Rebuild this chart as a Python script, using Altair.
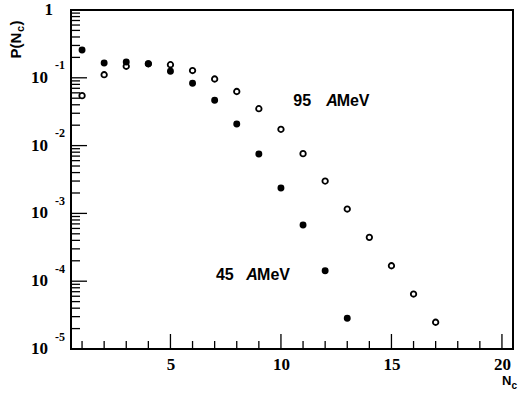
import altair as alt
import pandas as pd

# Multiplicity distributions P(Nc) at two beam energies
nc_45 = [1, 2, 3, 4, 5, 6, 7, 8, 9, 10, 11, 12, 13]
p_45 = [0.257, 0.165, 0.171, 0.161, 0.125, 0.083, 0.0466, 0.0208, 0.0075,
        0.00237, 6.75e-4, 1.43e-4, 2.84e-5]

nc_95 = [1, 2, 3, 4, 5, 6, 7, 8, 9, 10, 11, 12, 13, 14, 15, 16, 17]
p_95 = [0.0545, 0.111, 0.148, 0.161, 0.156, 0.128, 0.096, 0.0628, 0.035,
        0.0174, 0.0076, 0.0030, 0.00116, 4.44e-4, 1.69e-4, 6.47e-5, 2.48e-5]

# Axis ticks
y_major = [1, 1e-1, 1e-2, 1e-3, 1e-4, 1e-5]
y_minor = [m * 10.0 ** e for e in range(-5, 0) for m in range(2, 10)]
x_major = [5, 10, 15, 20]
x_minor = [n for n in range(1, 21) if n % 5 != 0]

# Y tick labels: mantissa and exponent
y_label_vals = [1e-1, 1e-2, 1e-3, 1e-4, 1e-5]
y_label_exp = ["-1", "-2", "-3", "-4", "-5"]

# Energy labels (data coordinates)
lab_num = ["95", "45"]
lab_x = [10.56, 7.06]
lab_a_x = [12.05, 8.43]
lab_mev_x = [12.52, 8.92]
lab_y = [0.0455, 1.23e-4]

W, H = 442, 339
xs = alt.Scale(domain=[0.5, 20.5], nice=False, zero=False)
ys = alt.Scale(type="log", domain=[1e-5, 1], nice=False)

SERIF = "Liberation Serif"
SANS = "Liberation Sans"

x_axis = alt.Axis(values=x_major, ticks=False, tickSize=0, domain=False,
                  grid=False, title=None, format="d",
                  labelFont=SERIF, labelFontWeight="bold", labelFontSize=17,
                  labelColor="black", labelPadding=7)


def X(field):
    return alt.X(field, scale=xs, axis=x_axis)


def Y(field):
    return alt.Y(field, scale=ys, axis=None)


df45 = pd.DataFrame({"nc": nc_45, "p": p_45})
df95 = pd.DataFrame({"nc": nc_95, "p": p_95})

filled = alt.Chart(df45).mark_circle(color="black", opacity=1, size=48).encode(
    x=X("nc:Q"), y=Y("p:Q"))

hollow = alt.Chart(df95).mark_point(shape="circle", color="black", filled=False,
                                    size=30, strokeWidth=1.8, opacity=1).encode(
    x=X("nc:Q"), y=Y("p:Q"))


# Inward tick marks
def yticks(vals, length):
    return alt.Chart(pd.DataFrame({"v": vals})).mark_rule(color="black", strokeWidth=1.3).encode(
        y=Y("v:Q"), x=alt.value(0), x2=alt.value(length))


def xticks(vals, length):
    return alt.Chart(pd.DataFrame({"v": vals})).mark_rule(color="black", strokeWidth=1.3).encode(
        x=X("v:Q"), y=alt.value(H), y2=alt.value(H - length))


ymaj = yticks(y_major, 16)
ymin = yticks(y_minor, 9)
xmaj = xticks(x_major, 15)
xmin = xticks(x_minor, 8)

lab_df = pd.DataFrame({"v": y_label_vals, "e": y_label_exp})
mant = alt.Chart(lab_df).mark_text(align="right", baseline="middle", font=SERIF,
                                   fontWeight="bold", fontSize=17, color="black").encode(
    y=Y("v:Q"), x=alt.value(-23), text=alt.value("10"))
expo = alt.Chart(lab_df).mark_text(align="left", baseline="middle", font=SERIF,
                                   fontWeight="bold", fontSize=12, color="black", dy=-12.5).encode(
    y=Y("v:Q"), x=alt.value(-16), text="e:N")
one = alt.Chart(pd.DataFrame({"v": [1.0]})).mark_text(align="right", baseline="middle", font=SERIF,
                                                     fontWeight="bold", fontSize=17, color="black").encode(
    y=Y("v:Q"), x=alt.value(-18), text=alt.value("1"))

# Energy annotations
ann_df = pd.DataFrame({"num": lab_num, "x": lab_x, "ax": lab_a_x, "mx": lab_mev_x, "y": lab_y})
ann_style = dict(baseline="middle", align="left", font=SANS, fontWeight="bold",
                 fontSize=16, color="black")
ann_num = alt.Chart(ann_df).mark_text(**ann_style).encode(
    x=X("x:Q"), y=Y("y:Q"), text="num:N")
ann_a = alt.Chart(ann_df).mark_text(fontStyle="italic", **ann_style).encode(
    x=X("ax:Q"), y=Y("y:Q"), text=alt.value("A"))
ann_mev = alt.Chart(ann_df).mark_text(**ann_style).encode(
    x=X("mx:Q"), y=Y("y:Q"), text=alt.value("MeV"))

# Axis titles with subscripts
one_row = pd.DataFrame({"k": [0]})


def txt(s, x, y, size, angle=0):
    return alt.Chart(one_row).mark_text(align="left", baseline="alphabetic", font=SANS,
                                        fontWeight="bold", fontSize=size, color="black",
                                        angle=angle).encode(
        x=alt.value(x), y=alt.value(y), text=alt.value(s))


xt_n = txt("N", 431, 374.5, 13)
xt_c = txt("c", 440.5, 378.5, 10)
yt_a = txt("P(N", -50.5, 48.5, 15, 270)
yt_c = txt("c", -47, 22, 11, 270)
yt_b = txt(")", -50.5, 15.5, 15, 270)

chart = alt.layer(
    filled, hollow, ymin, ymaj, xmin, xmaj, mant, expo, one,
    ann_num, ann_a, ann_mev, xt_n, xt_c, yt_a, yt_c, yt_b,
).properties(
    width=W, height=H,
    autosize=alt.AutoSizeParams(type="none"),
    padding={"left": 71, "top": 10, "right": 9, "bottom": 54},
    background="white",
).configure_view(stroke="black", strokeWidth=2)

chart.save("out.html", embed_options={"renderer": "svg", "actions": False})
